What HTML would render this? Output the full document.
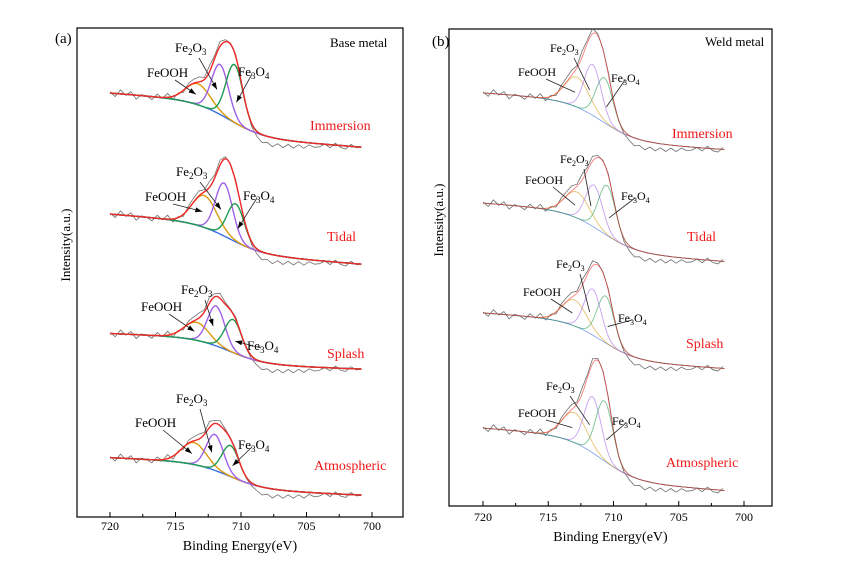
<!DOCTYPE html>
<html><head><meta charset="utf-8">
<style>
html,body{margin:0;padding:0;background:#fff;}
svg{display:block;font-family:"Liberation Serif",serif;}
</style></head>
<body>
<svg id="fig" width="868" height="568" viewBox="0 0 868 568"></svg>
<script>
// ---------- data ----------
const sampleNames = ["Immersion","Tidal","Splash","Atmospheric"];
const xTicks = [720,715,710,705,700];
// panel (a) base metal
const offsetA = [370,253,148,22];
const slopeA = [1.0,1.05,0.5,0.6];
const stepA = [35,30,26,26];
const feoohEA = [713.3,712.8,713.4,713.6];
const feoohHA = [21,32,18,22];
const fe2o3EA = [711.6,711.3,711.9,712.0];
const fe2o3HA = [50,53,40,36];
const fe3o4EA = [710.5,710.4,710.6,710.8];
const fe3o4HA = [58,38,33,31];
// panel (b) weld metal
const offsetB = [356,244,137,15];
const slopeB = [0.9,1.0,0.9,1.0];
const stepB = [40,40,39,44];
const feoohEB = [712.8,712.8,713.0,713.0];
const feoohHB = [30,26,26,30];
const fe2o3EB = [711.6,711.5,711.6,711.6];
const fe2o3HB = [51,42,46,56];
const fe3o4EB = [710.7,710.5,710.6,710.7];
const fe3o4HB = [45,50,47,60];
// measured-signal residual (a.u.), sampled every 0.4 eV from 720 eV
const residual = [1,-3,4,-1,3,-4,1,0,-3,3,-1,4,-3,1,-2,3,4,5,2,6,3,5,2,1,2,0,-1,-3,-5,-8,-6,-9,-5,-8,-4,-7,-3,-6,-2,-4,-3,0,-3,2,-2,-3,2,-1,0];

// ---------- helpers ----------
const NS="http://www.w3.org/2000/svg";
const svg=document.getElementById('fig');
function mk(tag,attrs,parent){const e=document.createElementNS(NS,tag);for(const k in attrs)e.setAttribute(k,attrs[k]);(parent||svg).appendChild(e);return e;}
function sig(z){return 1/(1+Math.exp(-z));}
function gauss(E,c,h,s){return h*Math.exp(-0.5*((E-c)/s)*((E-c)/s));}

const panels=[
 {id:'a',x0:110,k:13.1,axisY:517,left:77,right:403,top:28,label:'(a)',lx:55,ly:43,title:'Base metal',tx:330,ty:47,
  off:offsetA,slope:slopeA,step:stepA,e1:feoohEA,h1:feoohHA,e2:fe2o3EA,h2:fe2o3HA,e3:fe3o4EA,h3:fe3o4HA,eEnd:700.8,light:false,
  ytx:70,yty:245,labY:550,tickLabY:530,fs:13,
  sampX:[310,327,327,314],sampY:[130,241,358,470],
  ann:[[[147,77],[175,52],[238,76]],[[145,201],[176,176],[243,200]],[[141,311],[181,294],[247,350]],[[135,427],[176,403],[238,449]]]},
 {id:'b',x0:483,k:13.05,axisY:506,left:449,right:772,top:29,label:'(b)',lx:432,ly:46,title:'Weld metal',tx:705,ty:46,
  off:offsetB,slope:slopeB,step:stepB,e1:feoohEB,h1:feoohHB,e2:fe2o3EB,h2:fe2o3HB,e3:fe3o4EB,h3:fe3o4HB,eEnd:701.5,light:true,
  ytx:443,yty:220,labY:541,tickLabY:521,fs:12,
  sampX:[672,687,686,666],sampY:[138,241,348,467],
  ann:[[[518,76],[550,52],[611,82]],[[525,184],[560,163],[621,200]],[[523,296],[556,268],[618,322]],[[518,417],[546,390],[612,425]]]}
];

panels.forEach(p=>{
  const g=mk('g',{});
  
  
  const X=E=>p.x0+(720-E)*p.k;
  const Y=I=>p.axisY-I;
  const fr=mk('rect',{x:p.left,y:p.top,width:p.right-p.left,height:p.axisY-p.top,fill:'none',stroke:'#000','stroke-width':1.2},g);
  
  
  for(let E=720;E>=697.5;E-=2.5){
    if(X(E)>p.right-2)continue;
    const major=(E%5===0);
    const t=mk('line',{x1:X(E),x2:X(E),y1:p.axisY,y2:p.axisY-(major?5:3),stroke:'#000','stroke-width':1},g);
    
    
  }
  xTicks.forEach(v=>{
    const t=mk('text',{x:X(v),y:p.tickLabY,'font-size':12,'text-anchor':'middle'},g);
    t.textContent=v;
    
    
  });
  const xt=mk('text',{x:(p.left+p.right)/2,y:p.labY,'font-size':14,'text-anchor':'middle'},g);
  xt.textContent='Binding Energy(eV)';
  
  
  const yt=mk('text',{x:0,y:0,'font-size':13,'text-anchor':'middle',transform:`translate(${p.ytx},${p.yty}) rotate(-90)`},g);
  yt.textContent='Intensity(a.u.)';
  
  
  const pl=mk('text',{x:p.lx,y:p.ly,'font-size':15},g);
  pl.textContent=p.label;
  
  
  const pt=mk('text',{x:p.tx,y:p.ty,'font-size':13},g);
  pt.textContent=p.title;
  
  

  sampleNames.forEach((name,i)=>{
    const base=E=>p.off[i]+p.slope[i]*(E-701)+p.step[i]*sig((E-710.9)/1.35);
    const c1=E=>gauss(E,p.e1[i],p.h1[i],0.95);
    const c2=E=>gauss(E,p.e2[i],p.h2[i],0.65);
    const c3=E=>gauss(E,p.e3[i],p.h3[i],0.65);
    const env=E=>base(E)+c1(E)+c2(E)+c3(E);
    function path(fn){let d='';for(let E=720;E>=p.eEnd-1e-6;E-=0.1){d+=(d?'L':'M')+X(E).toFixed(1)+','+Y(fn(E)).toFixed(1);}return d;}
    const sw=p.light?0.9:1.4, op=p.light?0.6:1;
    let d='';
    residual.forEach((r,j)=>{const E=720-j*0.4;if(E<p.eEnd-0.05)return;d+=(d?'L':'M')+X(E).toFixed(1)+','+Y(env(E)+r).toFixed(1);});
    const ex=mk('path',{d:d,fill:'none',stroke:'#555','stroke-width':0.8,opacity:0.85},g);
    
    
    const curves=[['baseline',base,'#3a6ee0'],['feooh-peak',E=>base(E)+c1(E),'#d99a10'],['fe2o3-peak',E=>base(E)+c2(E),'#a060e8'],['fe3o4-peak',E=>base(E)+c3(E),'#1e9a50'],['envelope',env,'#f02828']];
    curves.forEach(c=>{
      const e=mk('path',{d:path(c[1]),fill:'none',stroke:c[2],'stroke-width':sw,opacity:op},g);
      
      
    });
    const sl=mk('text',{x:p.sampX[i],y:p.sampY[i],'font-size':14,fill:'#f01818'},g);
    sl.textContent=name;
    
    
    const a=p.ann[i];
    const fs=p.fs;
    const t1=mk('text',{x:a[0][0],y:a[0][1],'font-size':fs},g);
    t1.textContent='FeOOH';
    
    
    const t2=mk('text',{x:a[1][0],y:a[1][1],'font-size':fs},g);
    t2.innerHTML='Fe<tspan font-size="'+(fs-4)+'" dy="3">2</tspan><tspan dy="-3">O</tspan><tspan font-size="'+(fs-4)+'" dy="3">3</tspan>';
    
    
    const t3=mk('text',{x:a[2][0],y:a[2][1],'font-size':fs},g);
    t3.innerHTML='Fe<tspan font-size="'+(fs-4)+'" dy="3">3</tspan><tspan dy="-3">O</tspan><tspan font-size="'+(fs-4)+'" dy="3">4</tspan>';
    
    
    const tips=[[X(p.e1[i])-2,Y(base(p.e1[i])+c1(p.e1[i])*0.5)],[X(p.e2[i])-3,Y(base(p.e2[i])+c2(p.e2[i])*0.5)],[X(p.e3[i])+2,Y(base(p.e3[i])+c3(p.e3[i])*0.35)]];
    const starts=[[a[0][0]+28,a[0][1]+3],[a[1][0]+24,a[1][1]+6],[a[2][0]+14,a[2][1]-2]];
    tips.forEach((tp,j)=>{
      const ln=mk('line',{x1:starts[j][0],y1:starts[j][1],x2:tp[0],y2:tp[1],stroke:'#222','stroke-width':0.8},g);
      
      
      if(!p.light){
        const dx=tp[0]-starts[j][0],dy=tp[1]-starts[j][1],L=Math.hypot(dx,dy),ux=dx/L,uy=dy/L;
        const bx=tp[0]-ux*7,by=tp[1]-uy*7;
        const ah=mk('polygon',{points:`${tp[0]},${tp[1]} ${bx-uy*2.5},${by+ux*2.5} ${bx+uy*2.5},${by-ux*2.5}`,fill:'#000'},g);
        
        
      }
    });
  });
});
</script>
</body></html>
